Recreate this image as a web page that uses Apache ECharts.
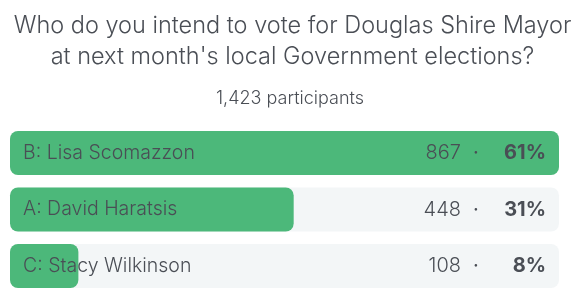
<!DOCTYPE html>
<html><head><meta charset="utf-8">
<script src="https://cdn.jsdelivr.net/npm/echarts@6/dist/echarts.min.js"></script>
<style>html,body{margin:0;padding:0;background:#fff}#c{width:575px;height:297px}</style>
</head><body><div id="c"></div>
<script>
const titleText = "Who do you intend to vote for Douglas Shire Mayor\nat next month's local Government elections?";
const subtitleText = "1,423 participants";
const categories = ["B: Lisa Scomazzon", "A: David Haratsis", "C: Stacy Wilkinson"];
const votes = [867, 448, 108];
const percents = [61, 31, 8];

const maxVotes = Math.max(...votes);
const FONT = "Inter";
const TXT = '#4a4e55';
const chart = echarts.init(document.getElementById('c'), null, {renderer: 'canvas'});
chart.setOption({
  animation: false,
  backgroundColor: '#ffffff',
  title: [{
    text: titleText, left: 287.5, top: 5, textAlign: 'center',
    textStyle: {fontFamily: FONT, fontSize: 23.5, fontWeight: 300, color: TXT, lineHeight: 31}
  }, {
    text: subtitleText, left: 285, top: 85, textAlign: 'center',
    textStyle: {fontFamily: FONT, fontSize: 18, fontWeight: 300, color: TXT}
  }],
  grid: {left: 10, right: 16, top: 124.75, height: 169.5, containLabel: false},
  xAxis: {type: 'value', min: 0, max: maxVotes, show: false},
  yAxis: {type: 'category', data: categories, inverse: true, show: false},
  series: [{
    type: 'bar', data: votes, barWidth: 44,
    itemStyle: {color: '#4cb87a', borderRadius: 8},
    showBackground: true,
    backgroundStyle: {color: '#f3f6f7', borderRadius: 8},
    label: {show: true, position: 'insideLeft', distance: 13,
      formatter: p => categories[p.dataIndex],
      fontFamily: FONT, fontSize: 19.5, fontWeight: 300, color: TXT},
    z: 2
  }, {
    type: 'bar', data: votes.map(() => maxVotes), barWidth: 44, barGap: '-100%',
    itemStyle: {color: 'rgba(0,0,0,0)'},
    label: {show: true, position: 'insideRight', distance: 13,
      formatter: p => '{n|' + votes[p.dataIndex] + '}{d|·}{p|' + percents[p.dataIndex] + '%}',
      rich: {
        n: {fontFamily: FONT, fontSize: 20, fontWeight: 300, color: TXT},
        d: {fontFamily: FONT, fontSize: 20, color: TXT, width: 30, align: 'center'},
        p: {fontFamily: FONT, fontSize: 20, fontWeight: 'bold', color: TXT, width: 55, align: 'right'}
      }},
    z: 3
  }]
});
</script></body></html>
